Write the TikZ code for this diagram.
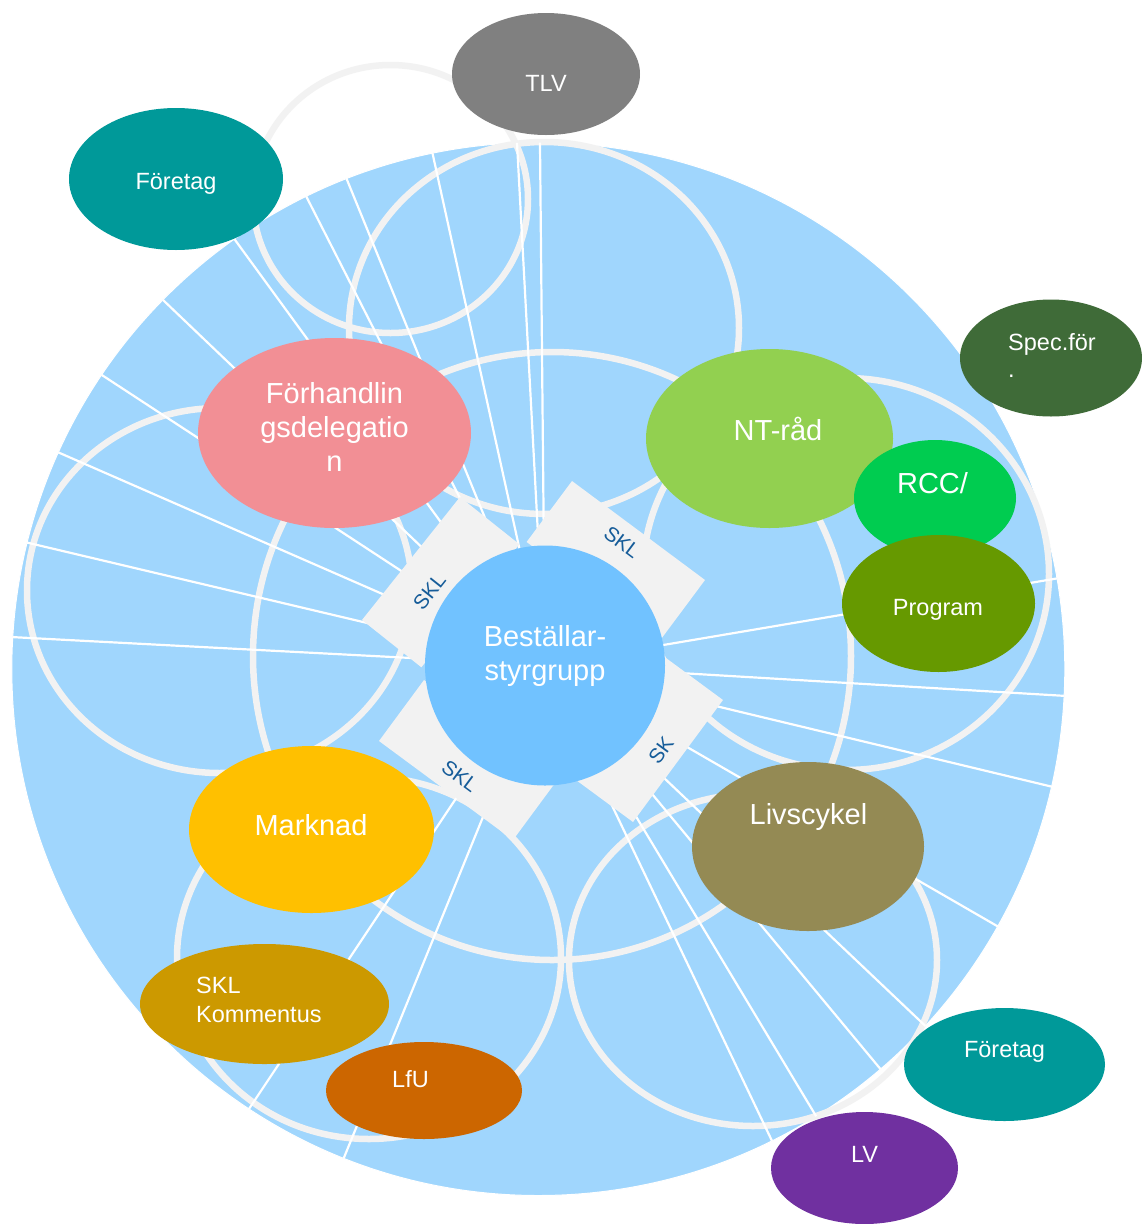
\documentclass[tikz,border=0pt]{standalone}
\usepackage{fontspec}
\setmainfont{Liberation Sans}
\usetikzlibrary{shapes.geometric}
\definecolor{bgblue}{RGB}{160,214,253}
\definecolor{ctrblue}{RGB}{113,194,255}
\definecolor{ringgray}{RGB}{242,242,242}
\definecolor{skltext}{RGB}{22,92,153}
\definecolor{tlvgray}{RGB}{128,128,128}
\definecolor{tealc}{RGB}{0,153,153}
\definecolor{specgreen}{RGB}{63,107,56}
\definecolor{pinkc}{RGB}{242,143,149}
\definecolor{ntgreen}{RGB}{146,208,80}
\definecolor{rccgreen}{RGB}{0,204,80}
\definecolor{proggreen}{RGB}{102,153,0}
\definecolor{marknadc}{RGB}{255,192,0}
\definecolor{livsc}{RGB}{148,138,84}
\definecolor{sklkc}{RGB}{204,153,0}
\definecolor{lfuc}{RGB}{204,102,0}
\definecolor{lvc}{RGB}{112,48,160}
\begin{document}
\begin{tikzpicture}[x=1pt,y=-1pt,
  ring/.style={draw=ringgray, line width=6.5pt},
  ray/.style={draw=white, line width=2.2pt},
  blob/.style={ellipse, inner sep=0pt, draw=none},
  big/.style={font=\fontsize{29}{34}\selectfont, text=white, inner sep=0pt, anchor=base},
  small/.style={font=\fontsize{23.5}{28}\selectfont, text=white, inner sep=0pt, anchor=base},
  skl/.style={font=\fontsize{20.5}{24}\selectfont, text=skltext, inner sep=0pt},
  sklbox/.style={fill=ringgray, draw=none}]
\useasboundingbox[fill=white] (0,0) rectangle (1141,1224);
% background disc
\node[circle, fill=bgblue, draw=white, line width=1pt, inner sep=0pt, minimum size=1053pt] (disc) at (538.3,669) {};
% rings
\draw[ring] (390.5,199) ellipse [x radius=137.5pt, y radius=134pt];
\draw[ring] (544,328) ellipse [x radius=195pt, y radius=186pt];
\draw[ring] (219.5,590.5) ellipse [x radius=192.5pt, y radius=182.5pt];
\draw[ring] (552,656) ellipse [x radius=299pt, y radius=304pt];
\draw[ring] (846,574) ellipse [x radius=203pt, y radius=196pt];
\draw[ring] (369,958) ellipse [x radius=192pt, y radius=181pt];
\draw[ring] (753,960) ellipse [x radius=184pt, y radius=166pt];
% rays
\begin{scope}
\clip (538.3,669) circle [radius=526.5pt];
\coordinate (o) at (545,665);
\foreach \a in {90.55,93.07,102.4,112.2,117,126.1,136.3,146.8,156.4,166.7,177,236.3,247.8,-64.5,-59,-50.3,-43.5,-30,-13.5,-3.4,9.6}
  \draw[ray] (o) -- ++(\a:700pt);
\end{scope}
% SKL boxes
\fill[sklbox] (572,481) -- (705,580) -- (659.6,641) -- (526.6,542) -- cycle;
\fill[sklbox] (460,497) -- (362,620) -- (421.4,667.3) -- (519.4,544.3) -- cycle;
\fill[sklbox] (379,741) -- (513,840) -- (558,779) -- (424,680) -- cycle;
\fill[sklbox] (723,700) -- (633,822) -- (571.8,776.9) -- (661.8,654.9) -- cycle;
\node[skl, rotate=-36.7] (skltr) at (622,542) {SKL};
\node[skl, rotate=51.5] (skltl) at (429.5,591.5) {SKL};
\node[skl, rotate=-36.5] (sklbl) at (460,776) {SKL};
\node[skl, rotate=53.6] (sklbr) at (661,750) {SK};
% centre
\node[circle, fill=ctrblue, inner sep=0pt, minimum size=240pt] (ctr) at (545,665.5) {};
\node[big] (ctr1) at (545,646) {Beställar-};
\node[big] (ctr2) at (545,680) {styrgrupp};
% outer nodes
\node[blob, fill=tlvgray, minimum width=188pt, minimum height=122pt] (tlv) at (546,74) {};
\node[small] (tlvt) at (546,91) {TLV};
\node[blob, fill=tealc, minimum width=214pt, minimum height=142pt] (foretag1) at (176,179) {};
\node[small] (foretag1t) at (176,189) {Företag};
\node[blob, fill=specgreen, minimum width=182pt, minimum height=117pt] (spec) at (1051,358) {};
\node[small, anchor=base west] (spect1) at (1008,350) {Spec.för};
\node[small, anchor=base west] (spect2) at (1008,377) {.};
\node[blob, fill=pinkc, minimum width=273pt, minimum height=190pt] (forh) at (334.5,433) {};
\node[big] (forh1) at (334.5,403) {Förhandlin};
\node[big] (forh2) at (334.5,437) {gsdelegatio};
\node[big] (forh3) at (334.5,471) {n};
\node[blob, fill=ntgreen, minimum width=247pt, minimum height=179pt] (nt) at (769.5,438.5) {};
\node[big] (ntt) at (778,440) {NT-råd};
\node[blob, fill=rccgreen, minimum width=162pt, minimum height=116pt] (rcc) at (935,498) {};
\node[big] (rcct) at (932.5,493) {RCC/};
\node[blob, fill=proggreen, minimum width=193pt, minimum height=137pt] (prog) at (938.5,603.5) {};
\node[small] (progt) at (938,615) {Program};
\node[blob, fill=marknadc, minimum width=245pt, minimum height=167pt] (mark) at (311.5,829.5) {};
\node[big] (markt) at (311,835) {Marknad};
\node[blob, fill=livsc, minimum width=232pt, minimum height=169pt] (livs) at (808,846.5) {};
\node[big] (livst) at (808.5,824) {Livscykel};
\node[blob, fill=sklkc, minimum width=249pt, minimum height=120pt] (sklk) at (264.5,1004) {};
\node[small, anchor=base west] (sklk1) at (196,993) {SKL};
\node[small, anchor=base west] (sklk2) at (196,1022) {Kommentus};
\node[blob, fill=lfuc, minimum width=196pt, minimum height=97pt] (lfu) at (424,1090.5) {};
\node[small] (lfut) at (410.5,1087) {LfU};
\node[blob, fill=tealc, minimum width=201pt, minimum height=113pt] (foretag2) at (1004.5,1064.5) {};
\node[small] (foretag2t) at (1004.5,1057) {Företag};
\node[blob, fill=lvc, minimum width=187pt, minimum height=112pt] (lv) at (864.5,1168) {};
\node[small] (lvt) at (864.5,1162) {LV};
\end{tikzpicture}
\end{document}
